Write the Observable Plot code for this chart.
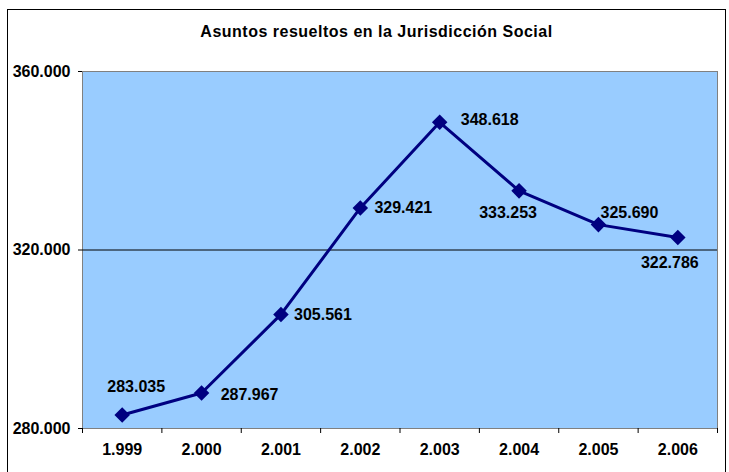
<!DOCTYPE html>
<html><head><meta charset="utf-8">
<script src="https://cdn.jsdelivr.net/npm/d3@7"></script>
<script src="https://cdn.jsdelivr.net/npm/@observablehq/plot@0.6"></script>
<style>
html,body{margin:0;padding:0;width:729px;height:472px;overflow:hidden;background:#fff;font-family:"Liberation Sans",Arial,sans-serif;}
#frame{position:absolute;left:7px;top:9px;width:719px;height:540px;border:1px solid #000;box-sizing:border-box;}
#title{position:absolute;left:12px;top:21px;width:729px;text-align:center;font-weight:bold;font-size:16px;letter-spacing:0.5px;line-height:22px;color:#000;}
#chart{position:absolute;left:0;top:0;}
</style></head><body>
<div id="frame"></div>
<div id="title">Asuntos resueltos en la Jurisdicción Social</div>
<div id="chart"></div>
<script>
const years = ["1.999", "2.000", "2.001", "2.002", "2.003", "2.004", "2.005", "2.006"];
const values = [283035, 287967, 305561, 329421, 348618, 333253, 325690, 322786];
const yTicks = [280000, 320000, 360000];
const gridValues = [320000];
// label placement (style only)
const labelDx = [14, 48, 42, 43, 50, -11, 31, -8];
const labelDy = [-28, 2, 0, 0, -2, 22, -12, 25];

const fmt = d3.formatLocale({decimal: ",", thousands: ".", grouping: [3], currency: ["", ""]}).format(",.0f");
const pts = values.map((v, i) => ({i, v, label: fmt(v)}));

const labelMarks = pts.map((p, k) => Plot.text([p], {
  x: "i", y: "v", text: "label", dx: labelDx[k], dy: labelDy[k],
  fill: "#000", fontSize: 16, fontWeight: "bold", textAnchor: "middle"
}));

const chart = Plot.plot({
  width: 729, height: 472,
  marginLeft: 82, marginRight: 12, marginTop: 71, marginBottom: 44,
  style: {fontFamily: "'Liberation Sans', Arial, sans-serif", fontSize: "16px", fontWeight: "bold", color: "#000", background: "transparent"},
  x: {domain: [-0.5, 7.5], axis: null, label: null},
  y: {domain: [280000, 360000], axis: null, label: null},
  marks: [
    Plot.frame({fill: "#99CCFF", stroke: "#808080"}),
    Plot.ruleY(gridValues, {stroke: "#000", strokeWidth: 1}),
    Plot.axisY({ticks: yTicks, tickFormat: fmt, tickSize: 4, tickPadding: 8, stroke: "#000", label: null}),
    Plot.axisX({ticks: d3.range(9).map(i => i - 0.5), tickFormat: () => "", tickSize: 5, stroke: "#000", label: null}),
    Plot.axisX({ticks: d3.range(8), tickFormat: i => years[i], tickSize: 0, tickPadding: 15, label: null}),
    Plot.line(pts, {x: "i", y: "v", stroke: "#000080", strokeWidth: 3}),
    Plot.dot(pts, {x: "i", y: "v", symbol: "diamond2", r: 7, fill: "#000080", stroke: "none"}),
    ...labelMarks
  ]
});
document.getElementById("chart").appendChild(chart);
</script>
</body></html>
